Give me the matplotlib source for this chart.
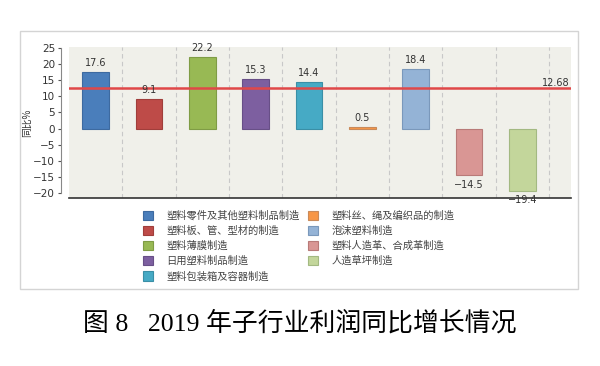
import matplotlib.pyplot as plt
from matplotlib.patches import Rectangle

plt.rcParams['font.family'] = ['DejaVu Sans', 'Noto Sans CJK SC']

# data
categories = [
    "塑料零件及其他塑料制品制造",
    "塑料板、管、型材的制造",
    "塑料薄膜制造",
    "日用塑料制品制造",
    "塑料包装箱及容器制造",
    "塑料丝、绳及编织品的制造",
    "泡沫塑料制造",
    "塑料人造革、合成革制造",
    "人造草坪制造",
]
growth = [17.6, 9.1, 22.2, 15.3, 14.4, 0.5, 18.4, -14.5, -19.4]
average = 12.68
yticks = [-20, -15, -10, -5, 0, 5, 10, 15, 20, 25]

colors = ["#4a7ebb", "#be4b48", "#98b954", "#7d5fa0", "#46aac5",
          "#f79646", "#94b3d6", "#d99694", "#c3d69b"]
edges = ["#3d6aa0", "#a03e3b", "#7f9c45", "#684f87", "#3a8fa6",
         "#c98a5a", "#7a98bb", "#b87a78", "#a3b982"]

fig = plt.figure(figsize=(6, 3.66), dpi=100)

# outer frame of the chart
fig.patches.append(Rectangle((0.0333, 0.2104), 0.93, 0.705, transform=fig.transFigure,
                             facecolor="white", edgecolor="#d4d4d4", lw=1, zorder=-1))

ax = fig.add_axes([0.115, 0.459, 0.8367, 0.4126])
ax.set_facecolor("#f0f0ea")

x = range(len(growth))
bars = ax.bar(x, growth, width=0.5, color=colors, edgecolor=edges, linewidth=0.8, zorder=3)

for i, v in enumerate(growth):
    if v >= 0:
        ax.annotate(f"{v}", (i, v), xytext=(0, 3), textcoords="offset points",
                    ha="center", va="bottom", fontsize=7, color="#333333", zorder=5)
    else:
        ax.annotate(f"{v}".replace("-", "\u2212"), (i, v), xytext=(0, -3),
                    textcoords="offset points", ha="center", va="top",
                    fontsize=7, color="#333333", zorder=5)

# category separators
for i in range(len(growth)):
    ax.axvline(i + 0.5, color="#c8c8c8", lw=0.8, ls=(0, (4, 3)), zorder=1)

ax.axhline(average, color="#e04848", lw=1.8, zorder=4)
ax.text(8.88, average, f"{average}", ha="right", va="bottom", fontsize=7,
        color="#333333", zorder=5)

ax.set_xlim(-0.5, 8.91)
ax.set_ylim(-21.5, 25.3)
ax.set_xticks([])
ax.set_yticks(yticks)
ax.set_yticklabels([str(t).replace("-", "\u2212") for t in yticks])
ax.tick_params(axis="y", length=2.5, width=0.8, pad=1.5, labelsize=7.5,
               colors="#555555", labelcolor="#333333")

ax.spines["top"].set_visible(False)
ax.spines["right"].set_visible(False)
ax.spines["left"].set_position(("outward", 6))
ax.spines["left"].set_bounds(-20, 25)
ax.spines["left"].set_color("#888888")
ax.spines["bottom"].set_color("#333333")
ax.spines["bottom"].set_linewidth(1.2)

ax.set_ylabel("同比%", fontsize=7, color="#333333", family=["Noto Sans CJK SC"], labelpad=0.5)

fig.legend(bars, categories, ncol=2, loc="upper left", bbox_to_anchor=(0.238, 0.425),
           frameon=False, prop={"family": ["Noto Sans CJK SC"], "size": 7.4},
           handlelength=1.0, handleheight=1.0, handletextpad=1.3,
           columnspacing=0.8, labelspacing=0.48, borderpad=0, borderaxespad=0,
           labelcolor="#444444")

fig.text(0.5, 0.118, "图 8   2019 年子行业利润同比增长情况", ha="center", va="center",
         fontsize=18.6, family=["Liberation Serif", "Noto Sans CJK SC"], color="black")

fig.savefig("out.png", dpi=100)
